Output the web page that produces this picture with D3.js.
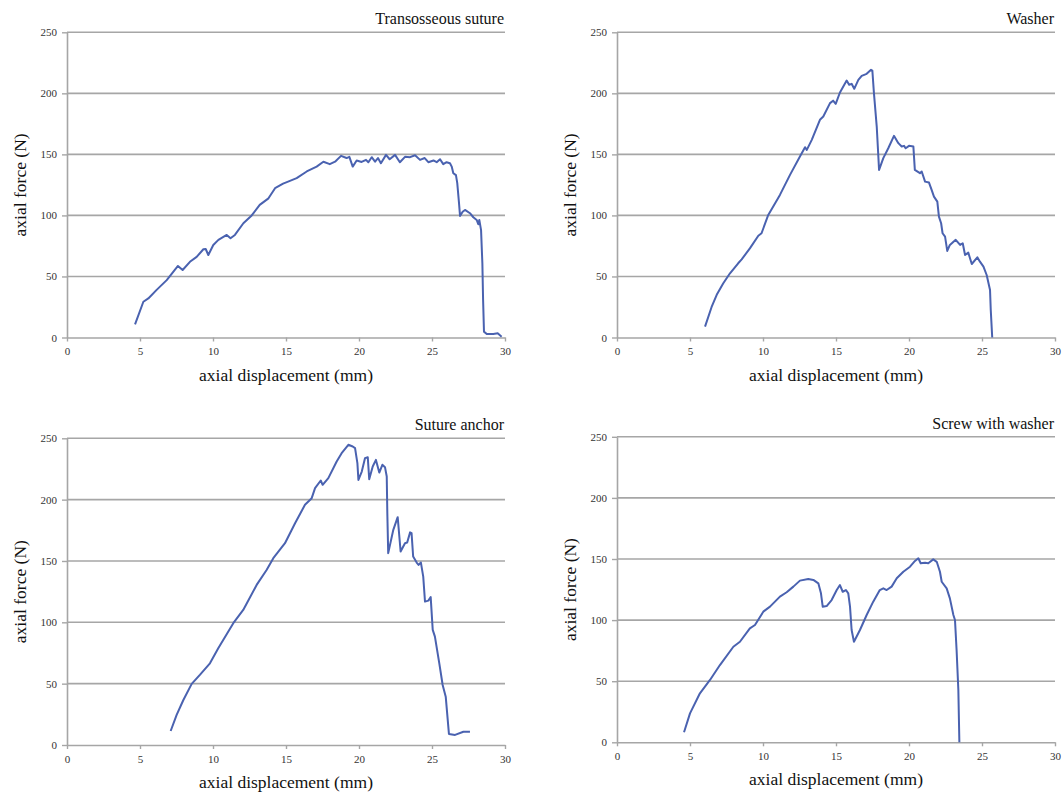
<!DOCTYPE html>
<html><head><meta charset="utf-8">
<script src="https://cdn.jsdelivr.net/npm/d3@7"></script>
<style>body{margin:0;background:#fff}svg{display:block}</style>
</head><body>
<svg id="c" width="1063" height="793"></svg>
<script>
const titles = ["Transosseous suture", "Washer", "Suture anchor", "Screw with washer"];
const xTicks = [0, 5, 10, 15, 20, 25, 30];
const yTicks = [0, 50, 100, 150, 200, 250];
const xLabel = "axial displacement (mm)";
const yLabel = "axial force (N)";

const transX = [4.66,5.23,5.57,6.14,6.83,7.6,7.92,8.42,8.88,9.34,9.5,9.68,10.02,10.37,10.94,11.2,11.5,12.08,12.65,13.2,13.8,14.25,14.8,15.27,15.73,16.42,17.1,17.56,18.0,18.36,18.77,19.15,19.34,19.57,19.84,20.18,20.48,20.64,20.87,21.1,21.3,21.5,21.85,22.1,22.47,22.8,23.15,23.5,23.84,24.18,24.5,24.75,25.1,25.32,25.55,25.77,26.0,26.23,26.35,26.46,26.64,26.73,26.85,26.92,27.1,27.26,27.6,27.83,28.06,28.17,28.24,28.36,28.45,28.5,28.56,28.75,29.2,29.5,29.77];
const transY = [10.8,29.3,32,39,47,58.6,55.3,62,66,72.3,72.5,67.6,75.8,80,84,81.3,84,93.6,100,108.6,114,122.3,126,128.3,130.5,136,140,144,142,144,148.8,147,148,140,145,143.8,145.5,143.6,147.7,144,147,142.8,149.6,146,149.6,143.6,148,147.7,149.3,145.5,147,143.6,145,143.6,146,142,143.6,142.8,140,134.6,133,126.4,110,99.6,103,104.5,101.8,98.5,96.3,92.8,96.3,88,60.8,30.7,4.8,2.9,2.9,3.4,0.7];

const washerX = [6.03,6.48,6.83,7.28,7.74,8.3,8.54,9.1,9.68,9.9,10.36,11.16,11.85,12.53,12.88,13.0,13.34,13.9,14.13,14.59,14.8,14.98,15.27,15.73,15.9,16.07,16.25,16.53,16.76,17.1,17.4,17.49,17.6,17.79,17.95,18.24,18.58,18.97,19.27,19.5,19.66,19.77,20.0,20.3,20.4,20.75,20.87,21.1,21.37,21.55,21.71,21.94,22.05,22.2,22.3,22.47,22.62,22.8,23.2,23.5,23.68,23.84,24.06,24.3,24.68,24.86,25.1,25.32,25.55,25.6,25.7];
const washerY = [8.9,25,35,44.4,52.6,60.8,64,73,83.4,85.4,100.4,116.8,133.2,148.2,155.9,153.7,161.9,178.3,181,192,194,191.4,200.7,210.5,207,207.8,203.7,211,214.3,216,219.3,218.7,200,172.8,137.3,146.9,155,165.2,159.2,156.4,157,155,157,156.4,137.3,134.6,136,127.7,126.9,120.9,115.4,111.3,99,93.6,85.4,82.6,70.9,75.8,80,75.8,77.2,67.6,69.5,60.2,65.7,62.1,58,51.2,38.9,22.5,0];

const anchorX = [7.1,7.51,7.97,8.54,9.1,9.79,10.36,11.39,12.07,12.99,13.67,14.13,14.93,15.62,16.3,16.76,16.99,17.38,17.51,17.9,18.47,18.81,19.27,19.57,19.73,19.89,19.96,20.19,20.41,20.6,20.7,20.94,21.16,21.39,21.6,21.78,21.9,21.94,22.0,22.35,22.65,22.85,23.15,23.3,23.5,23.6,23.71,23.95,24.08,24.24,24.4,24.52,24.75,24.91,25.05,25.2,25.5,25.73,25.94,26.16,26.58,27.15,27.6];
const anchorY = [11.4,24.5,36.7,49.8,57.1,66.6,78.9,99.3,110.1,130.5,142.7,152.3,164.5,180.8,195.8,201.2,209.4,215.6,212.1,217.5,231.1,237.9,244.7,243.3,242,229.8,216.1,222.9,233.8,234.6,216.7,227,232.4,222.1,228.4,226.5,218.9,189,156.4,175.4,185.7,157.7,164.5,165,173.3,172.7,153.6,148.7,146.8,148.7,137.3,116.9,117.7,120.5,93.8,88.3,66.6,48.9,39.4,9,8.2,10.8,10.8];

const screwX = [4.59,5.0,5.68,6.37,7.05,7.97,8.42,9.1,9.45,10.02,10.48,11.16,11.62,12.08,12.53,13.1,13.45,13.79,13.97,14.09,14.36,14.7,15.05,15.27,15.46,15.68,15.84,15.96,16.07,16.23,16.64,17.1,17.55,18.0,18.24,18.47,18.81,19.16,19.61,20.07,20.41,20.64,20.8,21.1,21.32,21.66,21.9,22.12,22.24,22.58,22.8,23.04,23.15,23.26,23.38,23.45];
const screwY = [8.2,23.7,40.1,51,63.2,78.2,82.3,93.2,96,106.9,111,119.2,122.8,127.4,132.3,133.7,132.9,130.1,121.9,111,111.5,116.4,124.6,128.7,123.2,124.6,121.9,111,91.9,82.3,91.9,104.2,115.1,124.6,126,124.6,127.4,134.2,139.6,143.7,148.4,150.6,146.5,147,146.5,149.7,147.7,139.6,131.4,126,117.8,104.2,100.1,75.5,42.8,0];

const seriesX = [transX, washerX, anchorX, screwX];
const seriesY = [transY, washerY, anchorY, screwY];

// layout: plot rectangles [left, right, top(250), bottom(0)]
const panels = [
  {l:67, r:505, t:32.3, b:337.5},
  {l:617, r:1055, t:32.3, b:337.5},
  {l:67, r:505, t:438.3, b:745},
  {l:617, r:1055, t:436.8, b:742.3}
];

const svg = d3.select("#c");
const serif = "'Liberation Serif','Times New Roman',serif";
const grid = "#a6a6a6";

panels.forEach((p, i) => {
  const x = d3.scaleLinear().domain([0, 30]).range([p.l, p.r]);
  const y = d3.scaleLinear().domain([0, 250]).range([p.b, p.t]);
  const g = svg.append("g");

  g.selectAll("line.grid").data(yTicks.filter(d => d > 0)).enter().append("line")
    .attr("x1", p.l).attr("x2", p.r)
    .attr("y1", d => y(d)).attr("y2", d => y(d))
    .attr("stroke", grid).attr("stroke-width", 1.6);

  const xa = g.append("g").attr("transform", `translate(0,${p.b})`)
    .call(d3.axisBottom(x).tickValues(xTicks).tickSize(4).tickPadding(6).tickSizeOuter(0));
  const ya = g.append("g").attr("transform", `translate(${p.l},0)`)
    .call(d3.axisLeft(y).tickValues(yTicks).tickSize(5).tickPadding(5).tickSizeOuter(0));
  [xa, ya].forEach(a => {
    a.attr("font-family", serif);
    a.select(".domain").attr("stroke", grid).attr("stroke-width", 1.6);
    a.selectAll(".tick line").attr("stroke", grid).attr("stroke-width", 1.4);
    a.selectAll(".tick text").attr("font-family", serif).attr("font-size", 11).attr("fill", "#333");
  });

  const xs = seriesX[i], ys = seriesY[i];
  const line = d3.line().x((d, k) => x(xs[k])).y((d, k) => y(ys[k]));
  g.append("path").datum(xs).attr("d", line)
    .attr("fill", "none").attr("stroke", "#4a62b0").attr("stroke-width", 2)
    .attr("stroke-linejoin", "round");

  g.append("text").attr("x", p.r - 1).attr("y", p.t - 8)
    .attr("text-anchor", "end").attr("font-family", serif).attr("font-size", 16)
    .attr("fill", "#111").text(titles[i]);

  g.append("text").attr("x", (p.l + p.r) / 2).attr("y", p.b + 43)
    .attr("text-anchor", "middle").attr("font-family", serif).attr("font-size", 17.5)
    .attr("fill", "#111").text(xLabel);
  g.append("text")
    .attr("transform", `translate(${p.l - 41},${(p.t + p.b) / 2}) rotate(-90)`)
    .attr("text-anchor", "middle").attr("font-family", serif).attr("font-size", 17.5)
    .attr("fill", "#111").text(yLabel);
});
</script>
</body></html>
